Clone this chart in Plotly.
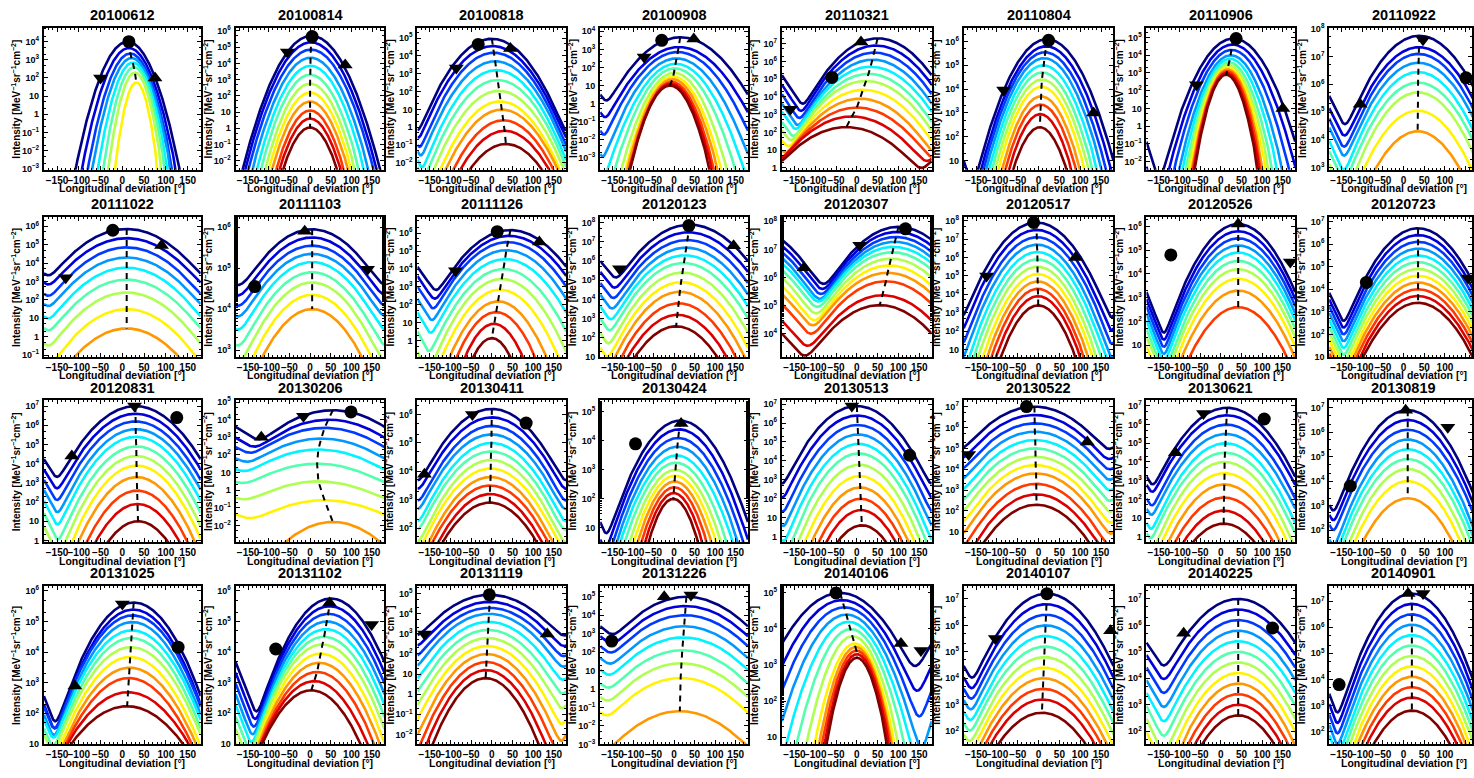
import math
import numpy as np
import plotly.graph_objects as go

# ---------------------------------------------------------------------------
# Event dates (one panel each)
DATES = [
    "20100612", "20100814", "20100818", "20100908", "20110321", "20110804", "20110906", "20110922",
    "20111022", "20111103", "20111126", "20120123", "20120307", "20120517", "20120526", "20120723",
    "20120831", "20130206", "20130411", "20130424", "20130513", "20130522", "20130621", "20130819",
    "20131025", "20131102", "20131119", "20131226", "20140106", "20140107", "20140225", "20140901",
]

# log10 limits of the intensity axis of each panel
Y_LIMITS = [
    (-3.05, 4.77), (-2.55, 6.2), (-2.38, 5.58), (-3.66, 4.2), (-0.1, 7.9), (0.62, 6.58), (-2.45, 5.55), (2.93, 8.03),
    (-1.1, 6.5), (2.83, 6.25), (-0.9, 6.9), (1.0, 8.3), (3.18, 8.15), (0.6, 8.2), (0.5, 6.4), (1.0, 7.2),
    (-0.1, 7.3), (-2.96, 5.1), (1.5, 6.5), (0.5, 5.4), (-0.3, 7.2), (0.5, 7.3), (-0.3, 7.3), (1.5, 7.3),
    (0.98, 6.17), (0.98, 6.17), (-2.5, 5.4), (-3.0, 5.6), (0.8, 5.2), (1.5, 7.5), (1.5, 7.5), (1.5, 7.6),
]

# Gaussian fit per energy channel: peak intensity (log10)
PEAK_LOG = [
    [4.0, 3.65, 3.35, 3.1, 2.85, 2.6, 2.3, 1.75],
    [5.7, 5.3, 4.85, 4.35, 3.85, 3.3, 2.75, 2.2, 1.65, 1.1, 0.6, 0.05],
    [4.96, 4.55, 4.18, 3.7, 3.2, 2.65, 2.04, 1.45, 0.99, 0.39, -0.2, -0.94],
    [3.67, 3.13, 2.85, 2.5, 2.2, 1.95, 1.7, 1.5, 1.35, 1.2, 1.1, 1.0],
    [7.3, 6.9, 6.5, 6.1, 5.7, 5.3, 4.9, 4.4, 3.9, 3.4, 2.9, 2.3],
    [6.1, 5.8, 5.55, 5.3, 5.0, 4.7, 4.4, 4.1, 3.7, 3.35, 2.95, 2.4],
    [4.94, 4.6, 4.3, 4.0, 3.8, 3.6, 3.45, 3.3, 3.2, 3.1, 3.0, 2.9],
    [7.74, 7.33, 7.09, 6.77, 6.44, 6.06, 5.71, 5.05, 4.31],
    [5.85, 5.35, 4.85, 4.3, 3.75, 3.1, 2.4, 1.5, 0.45],
    [5.95, 5.75, 5.55, 5.35, 5.15, 4.9, 4.65, 4.35, 4.0],
    [6.17, 5.85, 5.5, 5.05, 4.55, 4.0, 3.45, 2.85, 2.2, 1.6, 0.95, 0.15],
    [7.9, 7.5, 7.1, 6.7, 6.3, 5.9, 5.4, 4.9, 4.4, 3.8, 3.2, 2.6],
    [7.8, 7.62, 7.44, 7.27, 7.09, 6.9, 6.67, 6.43, 6.17, 5.87, 5.37, 5.02],
    [7.9, 7.5, 7.1, 6.7, 6.3, 5.9, 5.5, 5.1, 4.7, 4.3, 3.9, 3.4],
    [6.1, 5.8, 5.5, 5.2, 4.9, 4.55, 4.2, 3.8, 3.3, 2.6],
    [6.7, 6.4, 6.1, 5.8, 5.5, 5.2, 4.9, 4.6, 4.3, 4.0, 3.7, 3.4],
    [7.0, 6.6, 6.2, 5.8, 5.4, 4.9, 4.4, 3.9, 3.3, 2.6, 1.9, 1.0],
    [4.54, 4.0, 3.54, 2.93, 2.31, 1.5, 0.5, -0.57, -1.8],
    [6.2, 5.9, 5.6, 5.3, 5.0, 4.7, 4.4, 4.1, 3.8, 3.5, 3.2, 2.9],
    [4.7, 4.4, 4.1, 3.8, 3.5, 3.25, 3.0, 2.8, 2.6, 2.4, 2.2, 2.0],
    [6.9, 6.4, 5.9, 5.4, 4.9, 4.4, 3.8, 3.2, 2.6, 2.0, 1.4, 0.6],
    [7.0, 6.6, 6.2, 5.8, 5.4, 5.0, 4.6, 4.2, 3.8, 3.3, 2.8, 2.3],
    [6.9, 6.5, 6.0, 5.5, 5.0, 4.5, 4.0, 3.4, 2.8, 2.1, 1.4, 0.7],
    [6.9, 6.5, 6.1, 5.7, 5.3, 4.9, 4.5, 4.0, 3.3],
    [5.62, 5.39, 5.2, 4.98, 4.71, 4.46, 4.16, 3.84, 3.49, 3.15, 2.69, 2.23],
    [5.75, 5.5, 5.25, 5.0, 4.75, 4.5, 4.25, 3.95, 3.65, 3.35, 3.05, 2.75],
    [4.95, 4.6, 4.3, 4.0, 3.6, 3.2, 2.8, 2.4, 2.0, 1.6, 1.2, 0.8],
    [5.0, 4.5, 4.0, 3.4, 2.8, 2.1, 1.4, 0.6, -1.2],
    [5.0, 4.8, 4.6, 4.4, 4.2, 4.0, 3.8, 3.6, 3.5, 3.4, 3.3, 3.2],
    [7.2, 6.8, 6.4, 6.0, 5.6, 5.2, 4.8, 4.4, 4.0, 3.6, 3.2, 2.7],
    [7.0, 6.6, 6.2, 5.8, 5.4, 5.0, 4.6, 4.2, 3.8, 3.4, 3.0, 2.6],
    [7.3, 6.9, 6.5, 6.1, 5.7, 5.3, 4.9, 4.5, 4.1, 3.7, 3.3, 2.8],
]

# Gaussian fit per energy channel: centre longitude (deg)
CENTRE = [
    [12, 15, 18, 21, 24, 27, 29, 32],
    [3, 2, 2, 1, 1, 0, 0, 0, 0, 0, 0, 0],
    [0, 2, 5, 8, 11, 14, 17, 20, 24, 28, 31, 34],
    [15, 12, 9, 6, 4, 2, 0, -2, -4, -6, -8, -10],
    [50, 46, 42, 38, 33, 28, 22, 16, 8, 0, -12, -25],
    [20, 18, 15, 13, 11, 9, 8, 7, 6, 5, 4, 3],
    [30, 28, 26, 24, 22, 20, 18, 17, 16, 15, 14, 13],
    [38, 37, 36, 36, 35, 35, 35, 34, 34],
    [10, 10, 10, 10, 10, 10, 10, 10, 10],
    [5, 5, 5, 5, 5, 5, 5, 5, 5],
    [45, 42, 38, 35, 32, 28, 24, 20, 15, 10, 5, 0],
    [38, 35, 32, 29, 26, 23, 20, 17, 14, 11, 8, 5],
    [100, 97, 94, 91, 88, 85, 82, 78, 74, 70, 62, 55],
    [-5, -5, -4, -4, -3, -3, -3, -2, -2, -2, -1, -1],
    [42, 42, 42, 42, 42, 42, 42, 42, 42, 42],
    [35, 35, 35, 35, 35, 35, 35, 35, 35, 35, 35, 35],
    [30, 30, 30, 31, 31, 32, 32, 33, 33, 34, 35, 36],
    [55, 45, 35, 27, 20, 17, 20, 35, 55],
    [0, 0, 0, -1, -1, -2, -2, -3, -3, -4, -4, -5],
    [15, 12, 10, 8, 6, 4, 3, 2, 1, 0, -1, -2],
    [0, 1, 2, 3, 4, 5, 6, 7, 8, 9, 10, 12],
    [-10, -10, -9, -9, -8, -8, -7, -7, -6, -6, -5, -5],
    [15, 14, 13, 12, 11, 10, 9, 9, 8, 8, 7, 7],
    [10, 10, 10, 10, 10, 10, 10, 10, 10],
    [26, 25, 24, 23, 22, 21, 20, 18, 17, 15, 13, 11],
    [50, 47, 44, 41, 38, 34, 30, 26, 22, 17, 10, 3],
    [-5, -5, -6, -7, -8, -9, -10, -11, -12, -13, -14, -15],
    [30, 28, 26, 24, 22, 20, 18, 16, 14],
    [-40, -35, -30, -25, -20, -15, -10, -5, -3, -1, 0, 0],
    [20, 19, 18, 17, 16, 15, 14, 13, 12, 11, 10, 8],
    [42, 42, 42, 42, 42, 42, 42, 42, 42, 42, 42, 42],
    [20, 20, 20, 20, 20, 20, 20, 20, 20, 20, 20, 20],
]

# Gaussian fit per energy channel: width sigma (deg)
WIDTH = [
    [21, 19.5, 18, 17, 15.5, 14, 12.5, 10.5],
    [27, 26.5, 26, 25, 24, 23, 22, 21.5, 21, 20, 19.5, 19],
    [36, 36, 35.5, 35.5, 35, 35, 35, 34.5, 34.5, 34, 34, 34],
    [43, 41, 38, 35, 32, 29, 26, 24, 23, 22, 21.5, 21],
    [42, 42, 42, 42, 43, 43, 44, 45, 46, 48, 50, 52],
    [33, 32, 31, 30, 29, 28, 27, 26, 25, 24, 23, 22.5],
    [29, 27, 25, 23, 21.5, 20, 19, 18, 17, 16.5, 16, 15.5],
    [45, 45, 44, 44, 43, 43, 42, 42, 41],
    [50, 50, 49, 49, 48, 48, 47, 46, 45],
    [65, 64, 63, 62, 60, 58, 56, 54, 52],
    [44, 43, 42, 41, 40, 38, 36, 34, 31, 28, 24, 20.5],
    [48, 47, 46, 45, 44, 43, 42, 41, 40, 39, 38, 37],
    [55, 55, 55, 55, 56, 56, 56, 56, 57, 57, 58, 58],
    [36, 35, 34, 33, 32, 31, 30, 29, 28, 27, 26, 25],
    [38, 38, 38, 38, 38, 38, 38, 38, 38, 38],
    [40, 40, 40, 40, 40, 40, 40, 40, 40, 40, 40, 40],
    [42, 41, 40, 39, 38, 37, 36, 35, 34, 33, 32, 31],
    [60, 62, 64, 66, 68, 71, 73, 73, 50],
    [50, 50, 49, 49, 48, 48, 47, 47, 46, 46, 45, 45],
    [41, 40, 39, 38, 37, 35, 33, 31, 29, 27, 25, 23],
    [40, 39, 38, 37, 36, 35, 34, 33, 32, 31, 30, 29],
    [55, 54, 53, 52, 51, 50, 49, 48, 47, 46, 45, 44],
    [40, 40, 39, 39, 38, 38, 37, 37, 36, 36, 35, 35],
    [40, 40, 40, 39, 39, 39, 38, 38, 38],
    [41, 41, 42, 42, 43, 43, 44, 44, 45, 46, 50, 54],
    [42, 42, 42, 42, 42, 42, 42, 42, 42, 42, 42, 42],
    [55, 53, 51, 49, 47, 45, 43, 41, 39, 37, 35, 33],
    [55, 55, 55, 55, 55, 55, 55, 55, 55],
    [55, 50, 46, 42, 38, 34, 30, 27, 25, 24, 23, 22],
    [45, 45, 45, 45, 45, 45, 45, 45, 45, 45, 45, 45],
    [50, 49, 48, 47, 46, 45, 44, 43, 42, 41, 40, 39],
    [38, 38, 38, 38, 38, 38, 38, 38, 38, 38, 38, 38],
]

# Spacecraft footpoints: (marker, longitude deg, log10 intensity)
CRAFT = [
    [("circle", 15, 4.0), ("triangle-down", -50, 2.0), ("triangle-up", 75, 2.0)],
    [("circle", 5, 5.65), ("triangle-down", -55, 4.7), ("triangle-up", 85, 3.9)],
    [("circle", -33, 4.64), ("triangle-up", 45, 4.42), ("triangle-down", -86, 3.32)],
    [("circle", -30, 3.5), ("triangle-up", 48, 3.58), ("triangle-down", -73, 2.58)],
    [("circle", -60, 5.1), ("triangle-up", 10, 7.1), ("triangle-down", -160, 3.3)],
    [("circle", 24, 6.05), ("triangle-down", -84, 3.96), ("triangle-up", 132, 3.0)],
    [("circle", 37, 4.94), ("triangle-down", -59, 2.33), ("triangle-up", 150, 1.0)],
    [("triangle-down", 47, 7.6), ("circle", 151, 6.23), ("triangle-up", -105, 5.28)],
    [("circle", -22, 5.78), ("triangle-up", 90, 4.95), ("triangle-down", -130, 3.2)],
    [("triangle-up", -13, 5.9), ("circle", -134, 4.55), ("triangle-down", 139, 4.97)],
    [("circle", 13, 6.08), ("triangle-up", 115, 5.5), ("triangle-down", -88, 3.9)],
    [("circle", 36, 7.85), ("triangle-down", -133, 5.6), ("triangle-up", 145, 6.8)],
    [("circle", 117, 7.73), ("triangle-down", 7, 7.15), ("triangle-up", -127, 6.35)],
    [("circle", -12, 7.9), ("triangle-down", -125, 5.0), ("triangle-up", 89, 6.0)],
    [("circle", -121, 4.8), ("triangle-up", 42, 6.1), ("triangle-down", 168, 4.5)],
    [("circle", -90, 4.3), ("triangle-down", 156, 4.5)],
    [("triangle-down", 28, 7.0), ("circle", 125, 6.4), ("triangle-up", -116, 4.4)],
    [("triangle-up", -118, 3.0), ("triangle-down", -16, 4.2), ("circle", 99, 4.44)],
    [("triangle-down", -47, 6.0), ("circle", 83, 5.7), ("triangle-up", -163, 3.9)],
    [("circle", -94, 3.9), ("triangle-up", 17, 4.6)],
    [("triangle-down", -12, 6.9), ("circle", 127, 4.3)],
    [("circle", -29, 7.0), ("triangle-down", -168, 4.7), ("triangle-up", 117, 5.3)],
    [("triangle-down", -42, 6.6), ("circle", 105, 6.3), ("triangle-up", -110, 4.5)],
    [("triangle-up", 5, 6.9), ("triangle-down", 107, 6.2), ("circle", -129, 3.8)],
    [("triangle-down", 0, 5.57), ("circle", 128, 4.16), ("triangle-up", -109, 2.89)],
    [("triangle-up", 47, 5.6), ("triangle-down", 149, 4.9), ("circle", -83, 4.1)],
    [("circle", -6, 4.95), ("triangle-down", -163, 3.0), ("triangle-up", 134, 3.0)],
    [("triangle-up", -24, 5.0), ("triangle-down", 41, 5.1), ("circle", -152, 2.6)],
    [("circle", -50, 5.0), ("triangle-up", 106, 3.6), ("triangle-down", 154, 3.4)],
    [("circle", 20, 7.2), ("triangle-down", -104, 5.5), ("triangle-up", 173, 5.8)],
    [("triangle-up", -90, 5.7), ("circle", 125, 5.9)],
    [("triangle-up", 11, 7.3), ("triangle-down", 47, 7.3), ("circle", -156, 3.8)],
]

X_TICKS = [-150, -100, -50, 0, 50, 100, 150]
X_TICK_TEXT = ["\u2212150", "\u2212100", "\u221250", "0", "50", "100", "150"]
X_TITLE = "Longitudinal deviation [\u00b0]"
Y_TITLE = "Intensity [MeV<sup>\u22121</sup>sr<sup>\u22121</sup>cm<sup>\u22122</sup>]"

# ---------------------------------------------------------------------------
W, H = 1474, 778
COL_PX = [(44, 201), (236, 385), (418, 567), (601, 749), (783, 933), (965, 1115), (1148, 1297), (1331, 1480)]
ROW_PX = [(22, 166), (214, 356), (400, 544), (588, 749)]
N_CHANNELS = 12
FONT = "Liberation Sans"


def jet(t):
    r = min(1.0, max(0.0, 1.5 - abs(4 * t - 3)))
    g = min(1.0, max(0.0, 1.5 - abs(4 * t - 2)))
    b = min(1.0, max(0.0, 1.5 - abs(4 * t - 1)))
    return "rgb(%d,%d,%d)" % (round(r * 255), round(g * 255), round(b * 255))


COLORS = [jet(i / (N_CHANNELS - 1)) for i in range(N_CHANNELS)]


def wrapped_gauss(lon, peak_log, centre, sigma):
    total = np.zeros_like(lon)
    for k in (-1, 0, 1):
        total += np.exp(-((lon - centre + 360 * k) ** 2) / (2 * sigma ** 2))
    return 10 ** peak_log * total


def y_label(k):
    if k == 0:
        return "1"
    if k == 1:
        return "10"
    s = str(k).replace("-", "\u2212")
    return "10<sup>%s</sup>" % s


def bold(size):
    return dict(family=FONT, size=size, color="black", weight="bold")


lon = np.linspace(-180, 180, 721)
fig = go.Figure()
layout = dict(
    width=W, height=H, margin=dict(l=0, r=0, t=0, b=0),
    paper_bgcolor="white", plot_bgcolor="white", showlegend=False,
    font=dict(family=FONT, color="black"),
)
annotations = []

for i, date in enumerate(DATES):
    n = i + 1
    row, col = divmod(i, 8)
    xa, ya = "x%d" % n, "y%d" % n
    left, right = COL_PX[col]
    top, bottom = ROW_PX[row]
    vis_right = min(right, W)
    x_hi = -180 + 360 * (vis_right - left) / (right - left)

    peaks, cents, sigs = PEAK_LOG[i], CENTRE[i], WIDTH[i]
    for j in range(len(peaks)):
        fig.add_trace(go.Scatter(
            x=lon, y=wrapped_gauss(lon, peaks[j], cents[j], sigs[j]), mode="lines",
            line=dict(color=COLORS[j], width=2.6), xaxis=xa, yaxis=ya, hoverinfo="skip"))
    # locus of the peaks
    fig.add_trace(go.Scatter(
        x=cents, y=[10 ** p for p in peaks], mode="lines",
        line=dict(color="black", width=2, dash="6px,5px"), xaxis=xa, yaxis=ya, hoverinfo="skip"))
    for sym, x0, y0 in CRAFT[i]:
        fig.add_trace(go.Scatter(
            x=[x0], y=[10 ** y0], mode="markers",
            marker=dict(symbol=sym, size=13, color="black", line=dict(width=0)),
            xaxis=xa, yaxis=ya, hoverinfo="skip", cliponaxis=False))

    lo, hi = Y_LIMITS[i]
    decades = list(range(math.ceil(lo), math.floor(hi) + 1))
    axis_common = dict(
        showline=True, linewidth=2, linecolor="black", mirror="allticks",
        ticks="inside", ticklen=4, tickwidth=1, tickcolor="black", tickangle=0,
        showgrid=False, zeroline=False,
    )
    layout["xaxis%d" % n] = dict(
        axis_common, domain=[left / W, vis_right / W], anchor=ya, range=[-180, x_hi],
        tickmode="array", tickvals=X_TICKS, ticktext=X_TICK_TEXT, tickfont=bold(10),
        minor=dict(tickmode="linear", tick0=-180, dtick=10, ticks="inside", ticklen=2,
                   tickcolor="black", showgrid=False),
    )
    layout["yaxis%d" % n] = dict(
        axis_common, type="log", domain=[1 - bottom / H, 1 - top / H], anchor=xa, range=[lo, hi],
        tickmode="array", tickvals=[10 ** k for k in decades], ticktext=[y_label(k) for k in decades],
        tickfont=bold(9), ticklabelstandoff=1,
        minor=dict(ticks="inside", ticklen=2, tickcolor="black", showgrid=False),
    )
    # panel title, axis titles
    annotations.append(dict(
        text="<b>%s</b>" % date, x=(left + right) / 2 / W, y=1 - (top - 13) / H, xref="paper", yref="paper",
        xanchor="center", yanchor="middle", showarrow=False, font=dict(family=FONT, size=14.5, color="black")))
    annotations.append(dict(
        text=X_TITLE, x=(left + right) / 2 / W, y=1 - (bottom + 18.5) / H, xref="paper", yref="paper",
        xanchor="center", yanchor="middle", showarrow=False, font=bold(10.5)))
    annotations.append(dict(
        text=Y_TITLE, x=(left - 28) / W, y=1 - (top + bottom) / 2 / H, xref="paper", yref="paper",
        xanchor="center", yanchor="middle", textangle=-90, showarrow=False, font=bold(10)))

layout["annotations"] = annotations
fig.update_layout(**layout)
fig.write_html("out.html")
